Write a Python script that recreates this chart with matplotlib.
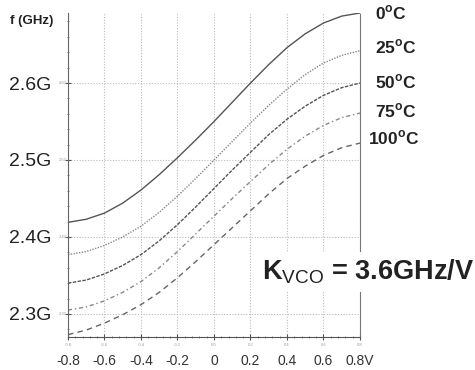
import matplotlib.pyplot as plt
import numpy as np

plt.rcParams['font.family'] = 'Liberation Sans'
plt.rcParams['mathtext.fontset'] = 'custom'
plt.rcParams['mathtext.rm'] = 'Liberation Sans'
plt.rcParams['mathtext.bf'] = 'Liberation Sans:bold'

# control voltage (V)
vctrl = [-0.8, -0.7, -0.6, -0.5, -0.4, -0.3, -0.2, -0.1, 0.0,
         0.1, 0.2, 0.3, 0.4, 0.5, 0.6, 0.7, 0.8]

# VCO frequency (GHz) per temperature
f_0c = [2.419, 2.423, 2.431, 2.444, 2.461, 2.481, 2.503, 2.526, 2.550,
        2.575, 2.600, 2.624, 2.646, 2.664, 2.678, 2.687, 2.691]
f_25c = [2.377, 2.381, 2.389, 2.400, 2.414, 2.432, 2.453, 2.476, 2.500,
         2.524, 2.548, 2.571, 2.592, 2.611, 2.626, 2.636, 2.642]
f_50c = [2.340, 2.344, 2.352, 2.363, 2.377, 2.395, 2.416, 2.439, 2.463,
         2.487, 2.510, 2.533, 2.553, 2.570, 2.584, 2.594, 2.600]
f_75c = [2.305, 2.309, 2.317, 2.328, 2.342, 2.360, 2.381, 2.404, 2.427,
         2.450, 2.472, 2.494, 2.514, 2.531, 2.545, 2.555, 2.561]
f_100c = [2.273, 2.279, 2.288, 2.299, 2.312, 2.328, 2.347, 2.368, 2.390,
          2.412, 2.434, 2.456, 2.476, 2.492, 2.506, 2.516, 2.522]

temp_labels = ["0", "25", "50", "75", "100"]
xticks = [-0.8, -0.6, -0.4, -0.2, 0.0, 0.2, 0.4, 0.6, 0.8]
xtick_labels = ["-0.8", "-0.6", "-0.4", "-0.2", "0", "0.2", "0.4", "0.6", "0.8V"]
yticks = [2.3, 2.4, 2.5, 2.6]
ytick_labels = ["2.3G", "2.4G", "2.5G", "2.6G"]

W, H = 475, 370
fig = plt.figure(figsize=(4.75, 3.7), dpi=100)
ax = fig.add_axes([68 / W, 1 - 337 / H, (360 - 68) / W, (337 - 13) / H])

series = [f_0c, f_25c, f_50c, f_75c, f_100c]
styles = [
    dict(color='#555555', linestyle='-', lw=1.0),
    dict(color='#888888', linestyle=(0, (1, 1)), lw=1.0),
    dict(color='#555555', linestyle=(0, (2.5, 1)), lw=1.0),
    dict(color='#888888', linestyle=(0, (3, 2, 1, 2)), lw=1.0),
    dict(color='#666666', linestyle=(0, (4, 3)), lw=1.0),
]
for f, st in zip(series, styles):
    ax.plot(vctrl, f, **st)

ax.set_xlim(-0.8, 0.8)
ax.set_ylim(2.270, 2.691)

ax.set_xticks(xticks)
ax.set_xticklabels(xtick_labels, fontsize=10, color='#333333')
ax.set_yticks(yticks)
ax.set_yticklabels(ytick_labels, fontsize=14, color='#222222')
ax.set_xticks(np.arange(-0.8, 0.81, 0.04), minor=True)
ax.set_yticks(np.arange(2.28, 2.69, 0.02), minor=True)
ax.tick_params(axis='x', which='major', direction='inout', length=4, pad=10.5, colors='#555555', labelcolor='#333333')
ax.tick_params(axis='y', which='major', direction='inout', length=4, pad=10, colors='#555555', labelcolor='#222222')
ax.tick_params(which='minor', direction='inout', length=2, width=0.6, colors='#777777')

ax.grid(True, which='major', color='#bbbbbb', linestyle=(0, (1, 1.5)), lw=0.8)

ax.spines['top'].set_visible(False)
ax.spines['left'].set_color('#666666')
ax.spines['bottom'].set_color('#555555')
ax.spines['right'].set_color('#777777')
ax.spines['right'].set_linestyle((0, (1, 1)))

# tiny original tick labels next to the axes
for y in yticks:
    ax.text(-0.81, y, f"{y:.2f}", fontsize=3, color='#999999', ha='right', va='center')
for x in xticks:
    ax.text(x, 2.262, f"{x:.1f}", fontsize=3, color='#999999', ha='center', va='top')

fig.text(10 / W, 1 - 21 / H, "f (GHz)", fontsize=9.5, fontweight='bold', color='#222222',
         ha='left', va='center')

temp_y = [13, 47, 82, 111, 138]
temp_x = [375, 375, 375, 375, 368]
for t, yp, xp in zip(temp_labels, temp_y, temp_x):
    fig.text(xp / W, 1 - yp / H, t + r"$^\mathbf{o}$C", fontsize=12.5, fontweight='bold',
             color='#222222', ha='left', va='center')

fig.text(262 / W, 1 - 272 / H, r"K$_\mathrm{VCO}$ = 3.6GHz/V", fontsize=19.5,
         fontweight='bold', color='#222222', ha='left', va='center',
         bbox=dict(facecolor='white', edgecolor='none', pad=4))

plt.savefig("out.png", dpi=100)
